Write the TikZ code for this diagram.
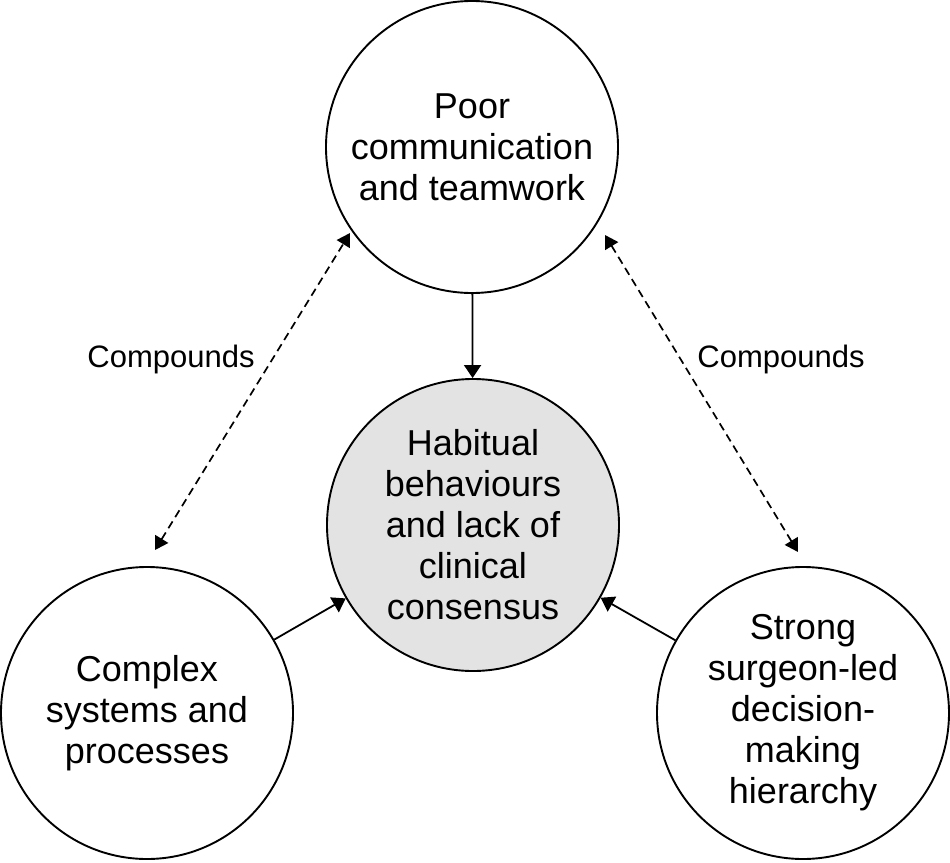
\documentclass[tikz,border=0pt]{standalone}
\usepackage{fontspec}
\setmainfont{Liberation Sans}
\usetikzlibrary{arrows.meta}
\begin{document}
\begin{tikzpicture}[x=1pt,y=-1pt,
  bubble/.style={circle,draw,line width=1.9pt,minimum size=292pt,inner sep=0pt,align=center,
    font=\fontsize{36}{41}\selectfont},
  lbl/.style={font=\fontsize{31}{36}\selectfont,anchor=base,inner sep=0pt},
  solidarrow/.style={line width=1.8pt,-{Triangle[length=13pt,width=17pt]}},
  dasharrow/.style={line width=1.7pt,dash pattern=on 8pt off 5pt,
    {Triangle[length=13pt,width=15pt]}-{Triangle[length=13pt,width=15pt]}}]
\useasboundingbox (0,0) rectangle (950,862);
\fill[white] (0,0) rectangle (950,862);
\node[bubble] (top) at (472,147) {Poor\\communication\\and teamwork};
\node[bubble,fill=gray!22] (ctr) at (473,525) {Habitual\\behaviours\\and lack of\\clinical\\consensus};
\node[bubble] (left) at (147,713) {Complex\\systems and\\processes};
\node[bubble] (right) at (803,713) {Strong\\surgeon-led\\decision-\\making\\hierarchy};
\coordinate (ltop) at (350,233);
\coordinate (lbot) at (155,550);
\coordinate (rtop) at (605,235);
\coordinate (rbot) at (798,552);
\draw[solidarrow] (top) -- (ctr);
\draw[solidarrow] (left) -- (ctr);
\draw[solidarrow] (right) -- (ctr);
\draw[dasharrow] (lbot) -- (ltop);
\draw[dasharrow] (rtop) -- (rbot);
\node[lbl] (lc) at (171,367) {Compounds};
\node[lbl] (rc) at (781,367) {Compounds};
\end{tikzpicture}
\end{document}
